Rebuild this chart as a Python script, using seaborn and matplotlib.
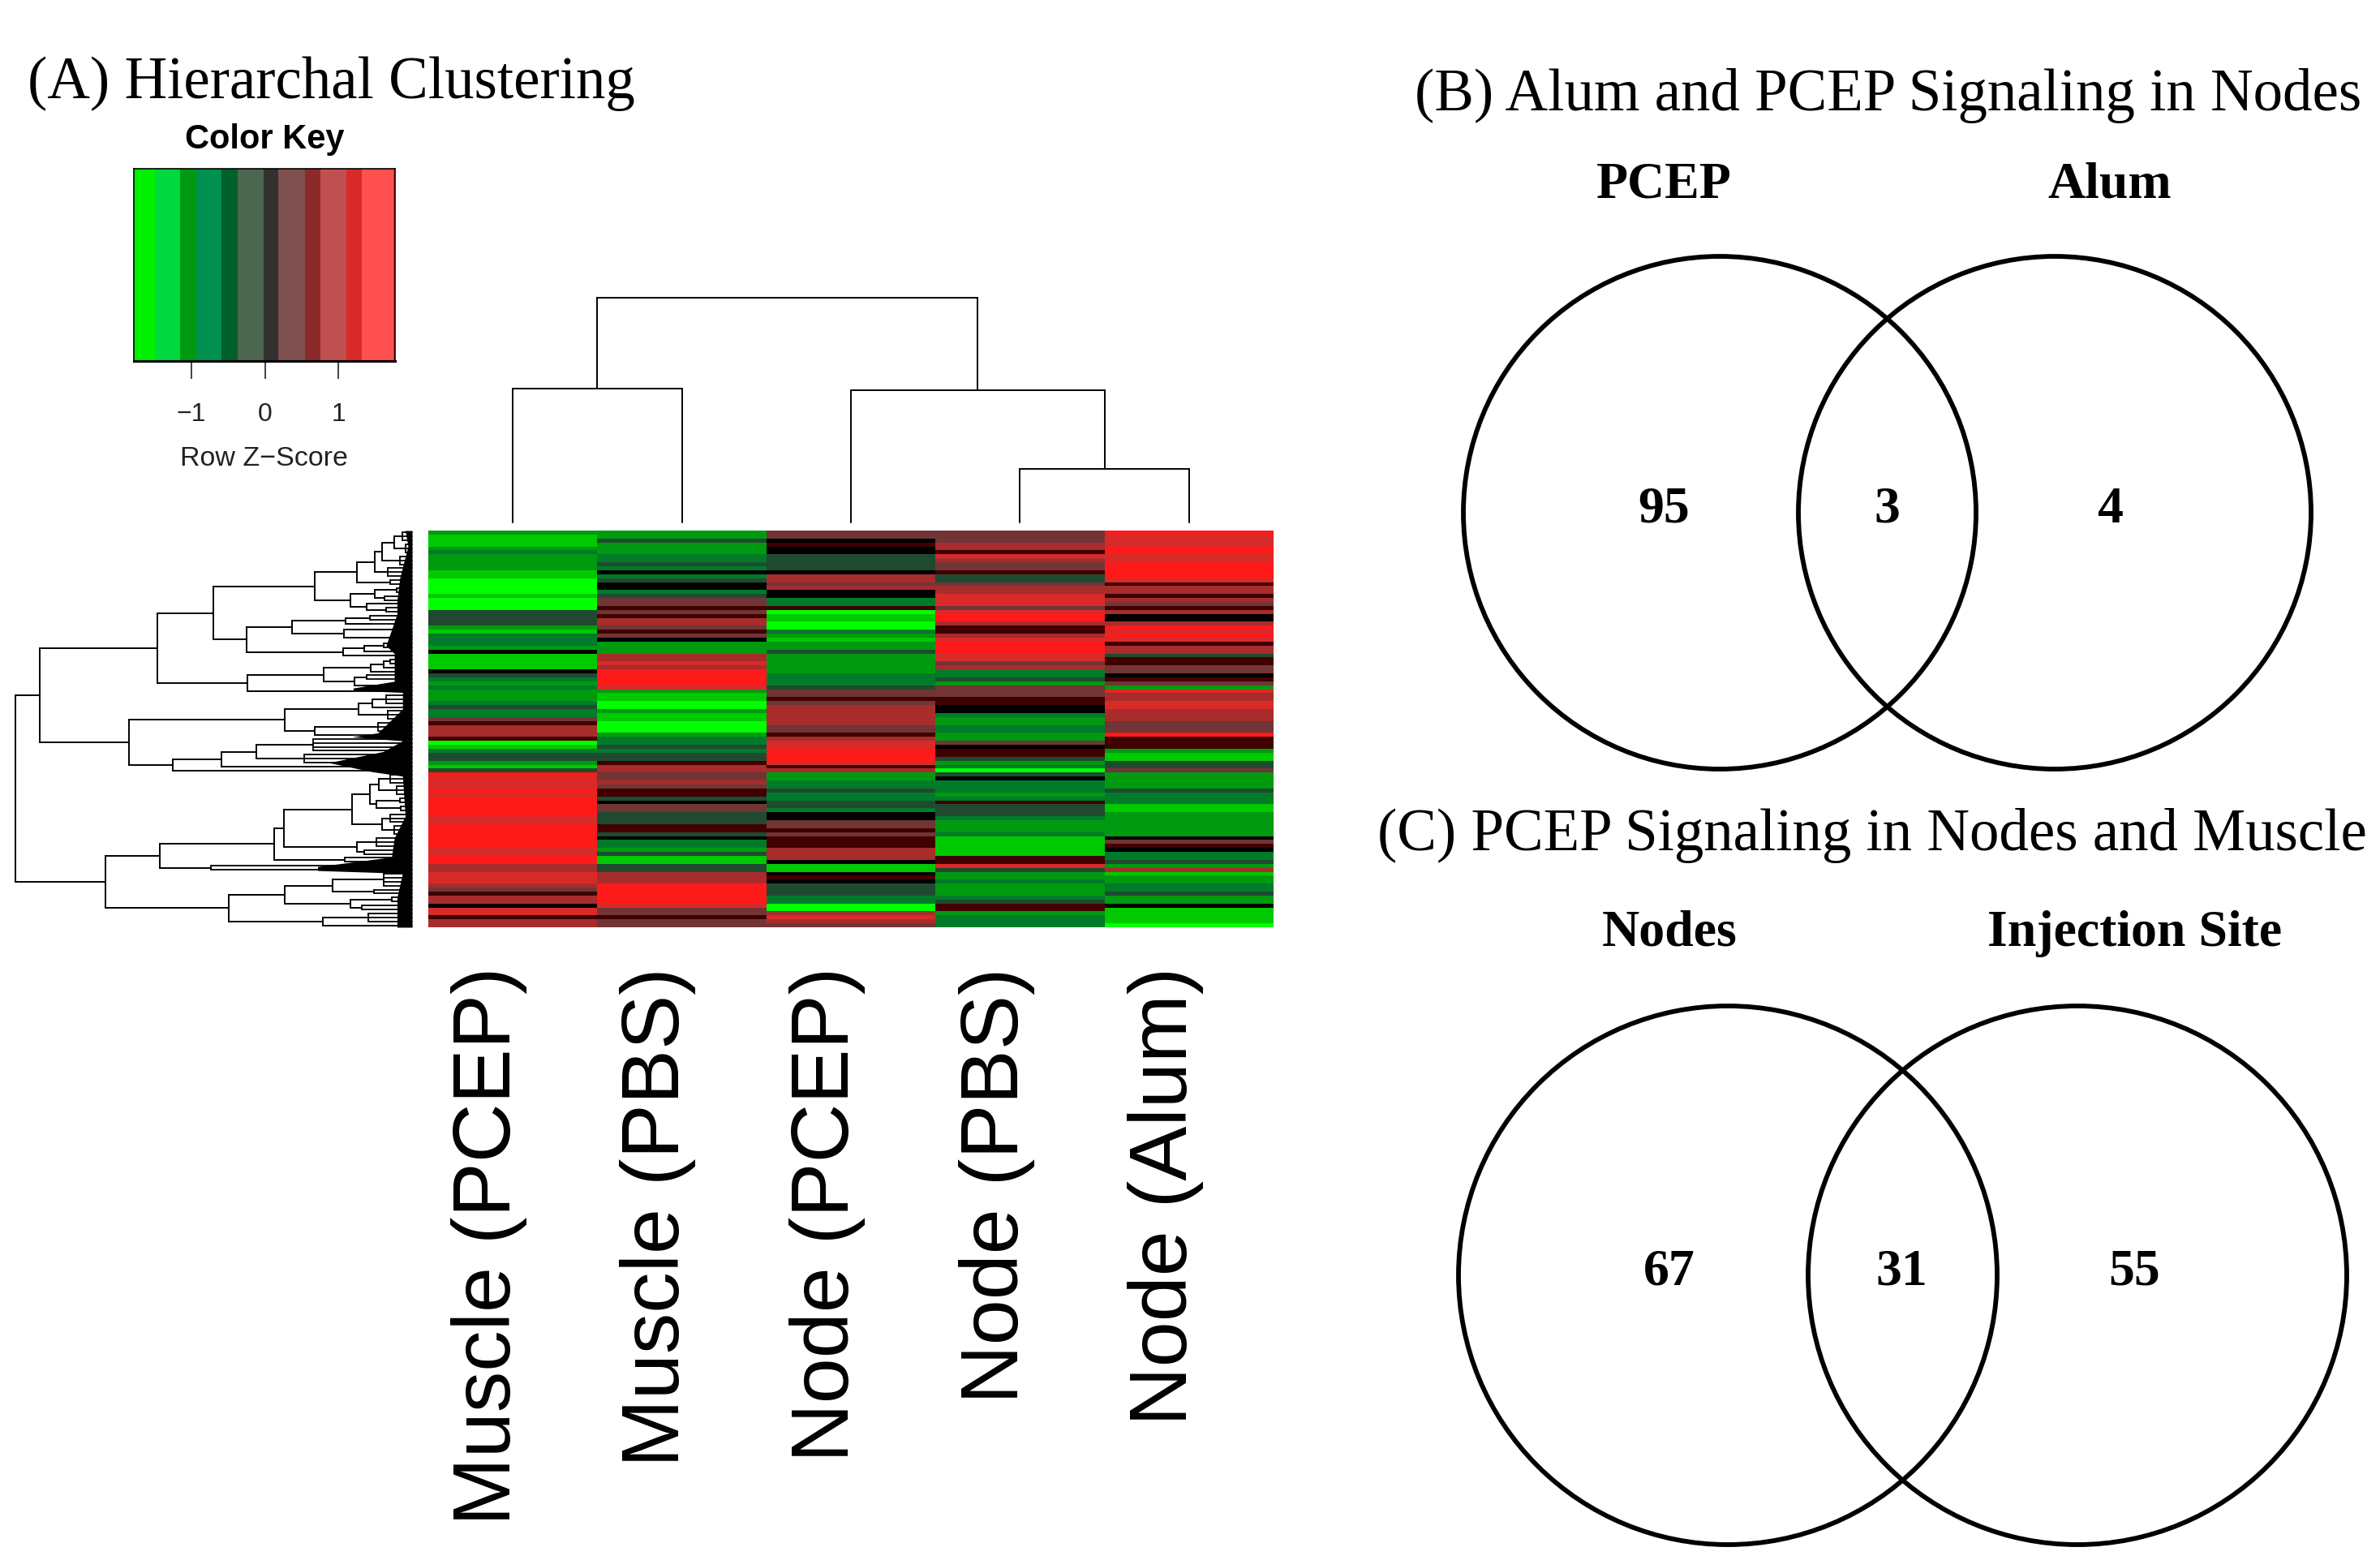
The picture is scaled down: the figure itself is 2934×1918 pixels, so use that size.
import matplotlib
matplotlib.use("Agg")
import matplotlib.pyplot as plt
from matplotlib.colors import LinearSegmentedColormap, ListedColormap
from matplotlib.patches import Circle
import numpy as np
import pandas as pd
import seaborn as sns

W, H = 2934, 1918

# ---------- data ----------
samples = ["Muscle (PCEP)", "Muscle (PBS)", "Node (PCEP)", "Node (PBS)", "Node (Alum)"]

# row-wise colour level, -5 (brightest green) ... 0 (black) ... 5 (brightest red)
muscle_pcep = [-3,-4,-4,-4,-3,-2,-3,-3,-3,-3,-4,-4,-5,-5,-5,-5,-4,-5,-5,-5,-1,-1,-1,-1,-3,
               -4,-2,-2,-2,-3,0,-4,-4,-4,-4,0,-1,-2,-3,-2,-3,-3,-3,-2,-1,-2,-2,2,1,3,3,
               3,1,-5,-4,-2,-1,-1,-3,-4,-1,5,4,4,4,5,4,5,5,5,5,5,4,4,5,5,
               5,5,5,5,4,4,5,5,3,3,4,4,4,3,2,1,3,3,0,4,4,1,3,3]
muscle_pbs = [-3,-3,-1,-3,-3,-3,-2,-2,-1,-2,0,-2,-1,0,0,-2,-1,2,2,1,2,1,3,3,2,
              1,2,0,-3,-3,-3,3,3,4,3,5,5,5,5,4,-3,-4,-4,-5,-5,-3,-4,-4,-5,-5,-5,
              -3,-2,-2,-1,-2,-1,-1,1,3,3,2,2,3,2,1,1,-1,0,2,2,-1,-1,-1,1,1,
              -1,0,-2,-2,-3,-1,-4,-4,-1,-1,3,3,3,5,5,5,5,5,4,2,2,1,2,2]
node_pcep = [2,2,0,1,0,0,-1,-1,-1,-1,0,3,3,2,3,0,0,-2,-2,1,-5,-4,-4,-5,-5,
             -2,-3,-4,-3,-3,-1,-3,-3,-3,-3,-3,-2,-2,-2,-1,2,2,1,2,3,3,3,3,3,2,2,
             1,3,4,4,5,5,5,4,1,3,-3,-3,-2,-2,-1,-2,-2,-1,-1,-2,0,0,2,2,1,
             2,1,1,1,3,3,3,0,-4,-4,0,1,0,-1,-1,-1,-2,-2,-5,-5,3,4,3,2]
node_pbs = [2,2,2,3,3,1,4,3,2,2,1,-1,-1,2,3,3,4,4,4,2,4,5,5,3,1,
            1,3,4,5,5,5,4,4,2,3,-2,-2,-1,-3,2,2,2,1,1,0,0,-2,-3,-3,-2,-2,
            -3,-3,2,0,1,1,-1,-3,-2,-5,-1,0,-2,-2,-2,-3,-2,1,-1,-1,-1,-2,-3,-3,-3,
            -2,-4,-4,-4,-4,-4,1,1,4,-1,-3,-3,-2,-3,-3,-3,-2,-1,1,1,-3,-2,-2,-2]
node_alum = [5,4,4,4,5,5,4,4,5,5,5,5,4,1,3,3,1,3,2,1,3,0,0,3,5,
             4,5,4,1,3,3,-1,1,1,2,2,0,1,2,-3,4,3,3,4,4,3,3,3,2,2,2,
             5,1,1,1,-3,-4,-4,-1,-1,2,-3,-3,-3,-3,-1,-2,-2,-2,-4,-4,-3,-3,-3,-3,-3,
             -3,0,2,1,0,-2,-2,-1,-3,3,-4,-3,-3,-2,-2,-1,-3,-3,0,-4,-4,-4,-4,-5]

level_colors = ["#00ff00", "#00c800", "#009a10", "#007a2a", "#1f4a30", "#000000",
                "#400000", "#703535", "#a82c2c", "#d82a2a", "#ff1a1a"]

# colour key
key_edges = [-1.785,-1.494,-1.156,-0.930,-0.591,-0.366,-0.017,0.181,0.547,0.761,1.111,1.325,1.748,1.773]
key_colors = ["#00f000","#00d840","#009a10","#009050","#00602a","#4d6650","#333030",
              "#7f5050","#8a2a2a","#c05050","#d82a2a","#ff5050","#ff2020"]
key_ticks = [-1, 0, 1]
key_tick_labels = ["\u22121", "0", "1"]

# column dendrogram: (height, left, right); ints are column indices
col_tree = (277, (165, 0, 1), (163, 2, (66, 3, 4)))

# row dendrogram: (merge position, upper, lower); (merge position, n) is a fan of n rows
row_tree = (57,
  (145,
    (575,
      (780,
        (1150,
          (1303,
            (1370,
              (1395, (1440, (1470, 3), (1480, 3)), (1460, 3)),
              (1415, 3)),
            (1425, 2)),
          (1280,
            (1370, (1450, 2), (1405, 2)),
            (1340, (1470, 1), (1410, 2)))),
        (900,
          (1068,
            (1262, (1350, 2), (1355, 1)),
            (1255, (1440, 2), (1430, 2))),
          (1252, (1330, (1400, 2), (1440, 1)), (1470, 1)))),
      (905,
        (1183,
          (1355, (1400, (1425, 2), (1460, 1)), (1400, 1)),
          (1295, (1340, 2), (1430, 2))),
        (1280, 1))),
    (470,
      (1040,
        (1310, (1360, (1410, 3), (1400, 1)), (1415, 3)),
        (1150, (1380, 3), (1285, 1))),
      (630,
        (810,
          (937, (1145, 4), (1110, 3)),
          (1195, 1)),
        (1160, 1)))),
  (385,
    (583,
      (1000,
        (1037,
          (1285,
            (1352,
              (1385, (1425, 3), (1450, 3)),
              (1375, (1460, 2), (1465, 2))),
            (1395, (1425, 3), (1440, 3))),
          (1305, (1375, 3), (1330, 2))),
        (1260, 2)),
      (770, 2)),
    (835,
      (1040,
        (1215, (1400, 4), (1365, 2)),
        (1280, (1430, 2), (1320, 2))),
      (1180, (1345, 3), (1480, 1)))))

# where the solid black mass next to the leaves begins
mass_rows = [0,4,12,17.6,21,29,31,38,39.7,40.3,40.8,45,51,52,53,55.7,58.5,60.8,61.9,72,77.5,82.3,84.7,85.7,86.4,92.5,100]
mass_pos = [1480,1490,1460,1450,1450,1410,1440,1440,1290,1290,1470,1470,1380,1285,1470,1400,1200,1360,1470,1480,1440,1430,1160,1160,1470,1450,1450]

venn_b_labels = ["PCEP", "Alum"]
venn_b_counts = [95, 3, 4]
venn_c_labels = ["Nodes", "Injection Site"]
venn_c_counts = [67, 31, 55]

# ---------- figure ----------
sns.set_theme(style="white")
plt.rcParams["font.family"] = ["Liberation Sans", "DejaVu Sans"]
fig = plt.figure(figsize=(W / 100, H / 100), dpi=100, facecolor="white")


def px_axes(x0, y0, x1, y1):
    return fig.add_axes([x0 / W, 1 - y1 / H, (x1 - x0) / W, (y1 - y0) / H])


HX0, HX1, HY0, HY1 = 528, 1570, 654, 1143

# heatmap, with a soft row-to-row blend on top as in the scanned original
df = pd.DataFrame(dict(zip(samples, [muscle_pcep, muscle_pbs, node_pcep, node_pbs, node_alum])))
cmap = LinearSegmentedColormap.from_list("gkr", level_colors, N=256)
ax = px_axes(HX0, HY0, HX1, HY1)
sns.heatmap(df, ax=ax, cmap=cmap, vmin=-5, vmax=5, cbar=False, xticklabels=False, yticklabels=False)
ax.set_xlabel("")
ax.set_ylabel("")
ax.imshow(np.repeat(df.values, 200, axis=1), cmap=cmap, vmin=-5, vmax=5, aspect="auto",
          extent=(0, 5, 100, 0), interpolation="bilinear", interpolation_stage="rgba")
ax.set_xlim(0, 5)
ax.set_ylim(100, 0)

# column dendrogram
axc = px_axes(HX0, 367, HX1, 644)
axc.set_xlim(0, 5)
axc.set_ylim(0, 277)
axc.axis("off")


def draw_col(node):
    if isinstance(node, int):
        return node + 0.5, 0
    h, a, b = node
    xa, ha = draw_col(a)
    xb, hb = draw_col(b)
    axc.plot([xa, xa, xb, xb], [ha, h, h, hb], color="black", lw=1.4, clip_on=False,
             solid_joinstyle="miter")
    return (xa + xb) / 2, h


draw_col(col_tree)

# row dendrogram
axr = px_axes(0, HY0, 508, HY1)
axr.set_xlim(0, 1505)
axr.set_ylim(100, 0)
axr.axis("off")
row_cursor = [0]


def draw_row(node):
    if len(node) == 2:
        x, n = node
        ys = [row_cursor[0] + i + 0.5 for i in range(n)]
        row_cursor[0] += n
        for y in ys:
            axr.plot([x, 1505], [y, y], color="black", lw=1.3, clip_on=False)
        if n > 1:
            axr.plot([x, x], [ys[0], ys[-1]], color="black", lw=1.3, clip_on=False)
        return x, sum(ys) / n
    x, a, b = node
    xa, ya = draw_row(a)
    xb, yb = draw_row(b)
    axr.plot([xa, x, x, xb], [ya, ya, yb, yb], color="black", lw=1.4, clip_on=False,
             solid_joinstyle="miter")
    return x, (ya + yb) / 2


draw_row(row_tree)
axr.fill_betweenx(mass_rows, mass_pos, 1505, color="black", lw=0)

# colour key
axk = px_axes(165, 208, 487, 445)
axk.pcolormesh(key_edges, [0, 1], [list(range(len(key_colors)))],
               cmap=ListedColormap(key_colors), vmin=-0.5, vmax=len(key_colors) - 0.5)
axk.set_xlim(key_edges[0], key_edges[-1])
axk.set_yticks([])
axk.set_xticks(key_ticks)
axk.set_xticklabels(key_tick_labels, fontsize=23, color="#222222")
axk.tick_params(axis="x", bottom=True, length=16, width=1.2, color="#222222", pad=21)
for sp in axk.spines.values():
    sp.set_visible(True)
    sp.set_color("black")
    sp.set_linewidth(1.2)
axk.spines["bottom"].set_linewidth(2.2)

# overlay in pixel coordinates
ov = fig.add_axes([0, 0, 1, 1], zorder=5)
ov.set_xlim(0, W)
ov.set_ylim(H, 0)
ov.axis("off")
ov.patch.set_alpha(0)

ov.text(326, 172, "Color Key", ha="center", va="center", fontsize=30, fontweight="bold", color="black")
ov.text(326, 565, "Row Z\u2212Score", ha="center", va="center", fontsize=24.5, color="#222222")

label_x = [603, 811, 1020, 1229, 1437]
for x, s in zip(label_x, samples):
    ov.text(x, 1192, s, rotation=90, ha="center", va="top", fontsize=72.5, color="black")

SERIF = ["Liberation Serif", "DejaVu Serif"]
ov.text(34, 103, "(A) Hierarchal Clustering", ha="left", va="center", fontsize=52.5, family=SERIF, color="black")
ov.text(2328, 118, "(B) Alum and PCEP Signaling in Nodes", ha="center", va="center", fontsize=52.5, family=SERIF, color="black")
ov.text(2308, 1030, "(C) PCEP Signaling in Nodes and Muscle", ha="center", va="center", fontsize=52.5, family=SERIF, color="black")


def venn(c1, c2, cy, r, names, counts, name_y, count_y, name_x, count_x):
    for c in (c1, c2):
        ov.add_patch(Circle((c, cy), r, fill=False, edgecolor="black", lw=4.2))
    for nx, s in zip(name_x, names):
        ov.text(nx, name_y, s, ha="center", va="center", fontsize=46, fontweight="bold", family=SERIF, color="black")
    for cx, v in zip(count_x, counts):
        ov.text(cx, count_y, str(v), ha="center", va="center", fontsize=46, fontweight="bold", family=SERIF, color="black")


venn(2120, 2533, 632, 316, venn_b_labels, venn_b_counts, 228, 629, [2051, 2601], [2051, 2326, 2601])
venn(2130, 2561, 1572, 332, venn_c_labels, venn_c_counts, 1151, 1568, [2058, 2632], [2058, 2344, 2631])

fig.savefig("out.png", dpi=100, facecolor="white")
